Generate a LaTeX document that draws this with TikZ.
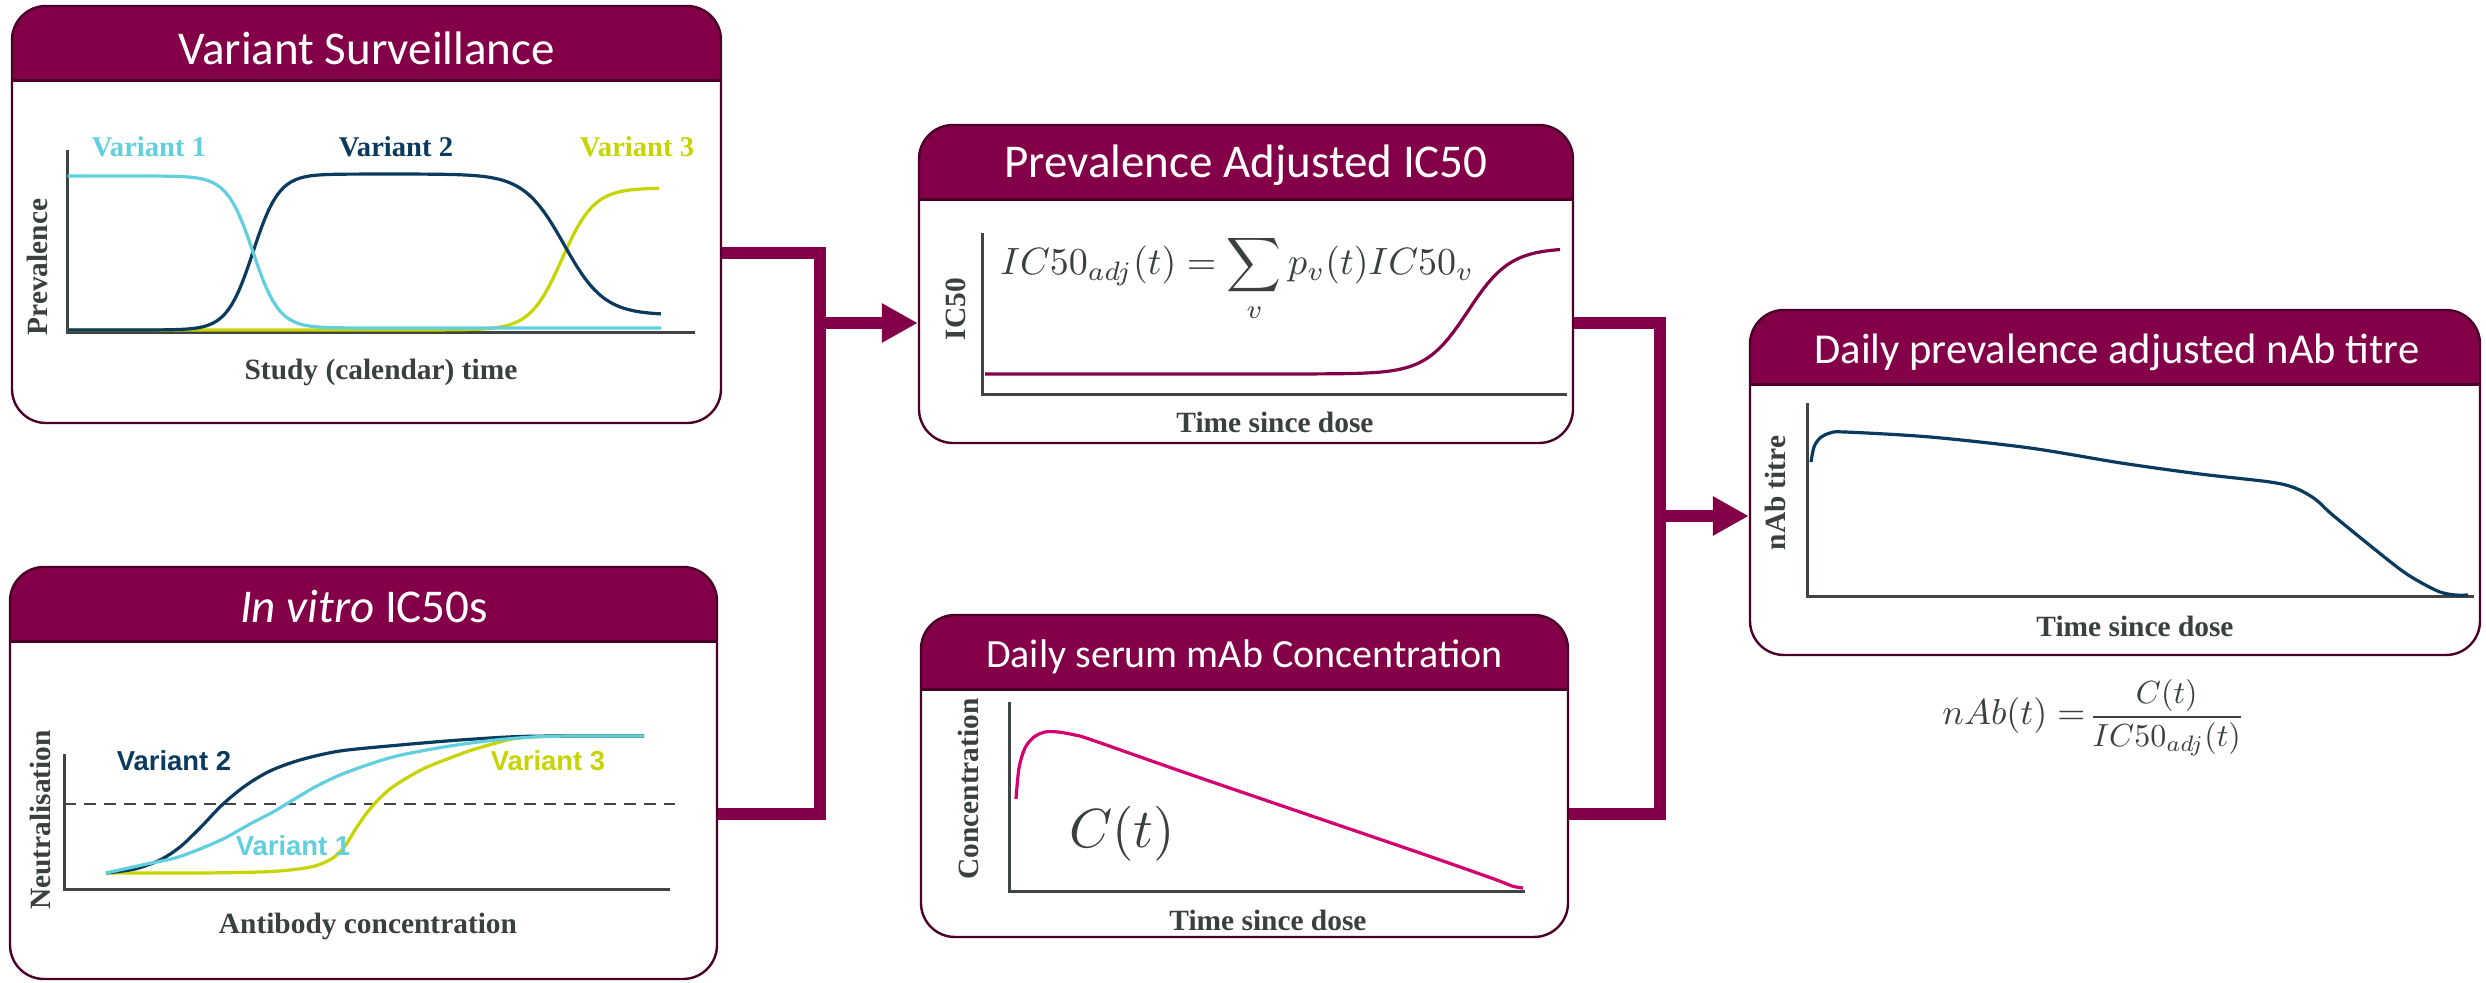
\documentclass[tikz,border=0pt]{standalone}
\usepackage{fontspec}
\usepackage{graphicx}
\usetikzlibrary{arrows.meta}
\newfontfamily\calib{Carlito}
\newfontfamily\tnr{Liberation Serif}
\newfontfamily\arl{Liberation Sans}
\definecolor{hdr}{HTML}{830049}
\definecolor{bord}{HTML}{4A0028}
\definecolor{navy}{HTML}{0B3A5F}
\definecolor{cyanv}{HTML}{62CFDE}
\definecolor{lime}{HTML}{C6D400}
\definecolor{pinkc}{HTML}{D4006F}
\definecolor{axc}{HTML}{3F4545}
\definecolor{txt}{HTML}{3A3F3F}
\tikzset{
  panel/.style={draw=bord, line width=1.2pt, rounded corners=17pt, inner sep=0pt, fill=white,
    path picture={
      \fill[hdr, sharp corners] (path picture bounding box.north west) rectangle ([yshift=-37.5pt]path picture bounding box.north east);
      \draw[bord, line width=1.5pt, sharp corners] ([yshift=-37.5pt]path picture bounding box.north west) -- ([yshift=-37.5pt]path picture bounding box.north east);}},
  ttl/.style={text=white, inner sep=0pt, anchor=base},
  axis/.style={draw=axc, line width=1.5pt, line join=miter},
  crv/.style={line width=1.6pt, line join=round},
  lab/.style={text=txt, inner sep=0pt, anchor=base, font=\tnr\bfseries\fontsize{14.7}{16}\selectfont},
  vser/.style={inner sep=0pt, anchor=base, font=\tnr\bfseries\fontsize{14.3}{16}\selectfont},
  vsan/.style={inner sep=0pt, anchor=base, font=\arl\bfseries\fontsize{13.7}{16}\selectfont},
  mth/.style={inner sep=0pt, text=txt},
  conn/.style={draw=hdr, line width=5.75pt, line join=miter},
  arr/.style={-{Triangle[length=18pt,width=18.5pt]}},
  declare function={sig(\z)=1/(1+exp(-max(-9,min(9,\z))));}
}
\begin{document}
\begin{tikzpicture}[x=0.5pt,y=-0.5pt]
\useasboundingbox (0,0) rectangle (2486,983);

% ---------- panels ----------
\node[panel, minimum width=354.5pt, minimum height=208.5pt] (b1) at (366.5,214.5) {};
\node[panel, minimum width=353.5pt, minimum height=206pt] (b2) at (363.5,773) {};
\node[panel, minimum width=327pt, minimum height=159pt] (b3) at (1246,284) {};
\node[panel, minimum width=323.5pt, minimum height=161pt] (b4) at (1244.5,776) {};
\node[panel, minimum width=365pt, minimum height=172.5pt] (b5) at (2115,482.5) {};

% ---------- titles ----------
\node[ttl, font=\calib\fontsize{23.5}{28}\selectfont] (t1) at (366.5,65) {Variant Surveillance};
\node[ttl, font=\calib\fontsize{23.5}{28}\selectfont] (t2) at (364,623) {\itshape In vitro\upshape{} IC50s};
\node[ttl, font=\calib\fontsize{23.5}{28}\selectfont] (t3) at (1246,178) {Prevalence Adjusted IC50};
\node[ttl, font=\calib\fontsize{20}{24}\selectfont] (t4) at (1244.5,668) {Daily serum mAb Concentration};
\node[ttl, font=\calib\fontsize{21.3}{26}\selectfont] (t5) at (2117,364) {Daily prevalence adjusted nAb titre};

% ---------- panel 1 : variant surveillance ----------
\draw[axis] (67.5,150) -- (67.5,333) -- (695,333);
\draw[crv, lime] plot[domain=67.5:659, samples=140] (\x,{330-142*sig((\x-562)/16)});
\draw[crv, navy] plot[domain=67.5:661, samples=160] (\x,{330-156*sig((\x-253)/13)+141*sig((\x-564)/20)});
\draw[crv, cyanv] plot[domain=67.5:661, samples=140] (\x,{176+152*sig((\x-253)/13)});
\node[vser, text=cyanv] (v11) at (149,157) {Variant 1};
\node[vser, text=navy] (v12) at (396,157) {Variant 2};
\node[vser, text=lime] (v13) at (637,157) {Variant 3};
\node[lab, rotate=90] (y1) at (47,267) {Prevalence};
\node[lab] (x1) at (381,380) {Study (calendar) time};

% ---------- panel 2 : in vitro IC50s ----------
\draw[axis] (64,754) -- (64,889) -- (670,889);
\draw[axc, line width=1.3pt, dash pattern=on 6pt off 4pt] (64,804) -- (675,804);
\draw[crv, lime] plot[smooth, tension=0.5] coordinates {(106,873) (200,873) (260,872) (290,870) (315,866) (333,858) (345,846) (355,830) (366,814) (378,800) (390,789) (405,779) (425,768) (450,758) (472,750) (500,742) (519,738) (560,736) (644,736)};
\draw[crv, navy] plot[smooth, tension=0.5] coordinates {(106,873) (135,869) (160,860) (180,847) (200,828) (222,805) (245,786) (270,771) (300,760) (340,751) (400,745) (460,740) (520,736.5) (580,736) (644,736)};
\draw[crv, cyanv] plot[smooth, tension=0.5] coordinates {(106,873) (142,865) (175,858) (200,849) (225,838) (250,824) (273,812) (293,800) (315,787) (340,775) (370,764) (401,755) (450,746) (496,740) (543,736.5) (600,736) (644,736)};
\node[vsan, text=navy] (v22) at (174,770) {Variant 2};
\node[vsan, text=lime] (v23) at (548,770) {Variant 3};
\node[vsan, text=cyanv] (v21) at (293,856) {Variant 1};
\node[lab, rotate=90] (y2) at (50,820) {Neutralisation};
\node[lab] (x2) at (368,933) {Antibody concentration};

% ---------- panel 3 : prevalence adjusted IC50 ----------
\draw[axis] (982,233) -- (982,395) -- (1567,395);
\draw[crv, hdr] plot[domain=985:1560, samples=120] (\x,{374-126*sig((\x-1468)/21)});
\node[mth, anchor=base west] (f1) at (1000,275) {\scalebox{1.9}{$\displaystyle IC50_{adj}(t)=\sum_{v} p_v(t)IC50_v$}};
\node[lab, rotate=90] (y3) at (965,309) {IC50};
\node[lab] (x3) at (1275,433) {Time since dose};

% ---------- panel 4 : serum concentration ----------
\draw[axis] (1009,702) -- (1009,891) -- (1525,891);
\draw[crv, pinkc] plot[smooth, tension=0.5] coordinates {(1016,799) (1019,768) (1025,748) (1034,737) (1045,732) (1058,732) (1075,735) (1092,740) (1186,773) (1300,812) (1420,853) (1494,879) (1512,886) (1523,888)};
\node[mth, anchor=base] (ct) at (1122,848) {\scalebox{2.75}{$C(t)$}};
\node[lab, rotate=90] (y4) at (978,789) {Concentration};
\node[lab] (x4) at (1268,930) {Time since dose};

% ---------- panel 5 : nAb titre ----------
\draw[axis] (1807,403) -- (1807,597) -- (2474,597);
\draw[crv, navy] plot[smooth, tension=0.5] coordinates {(1811,462) (1814,447) (1820,438) (1830,433) (1845,432) (1930,437) (2030,448) (2121,463) (2200,474) (2270,482) (2295,488) (2315,499) (2335,517) (2397,567) (2420,582) (2440,592) (2455,595) (2468,595)};
\node[lab, rotate=90] (y5) at (1785,493) {nAb titre};
\node[lab] (x5) at (2135,637) {Time since dose};
\node[mth, anchor=base west] (f2) at (1942,725) {\scalebox{1.8}{$nAb(t)=$}\,\scalebox{1.6}{$\displaystyle\frac{C(t)}{IC50_{adj}(t)}$}};

% ---------- connectors ----------
\coordinate (j1a) at (820,253);
\coordinate (j1) at (820,323);
\coordinate (j1b) at (820,814);
\draw[conn] (b1.east |- j1a) -- (j1a) -- (j1b) -- (b2.east |- j1b);
\draw[conn, arr] (j1) -- (b3.west |- j1);
\coordinate (j2a) at (1660,323);
\coordinate (j2) at (1660,516);
\coordinate (j2b) at (1660,814);
\draw[conn] (b3.east |- j2a) -- (j2a) -- (j2b) -- (b4.east |- j2b);
\draw[conn, arr] (j2) -- (b5.west |- j2);
\end{tikzpicture}
\end{document}
